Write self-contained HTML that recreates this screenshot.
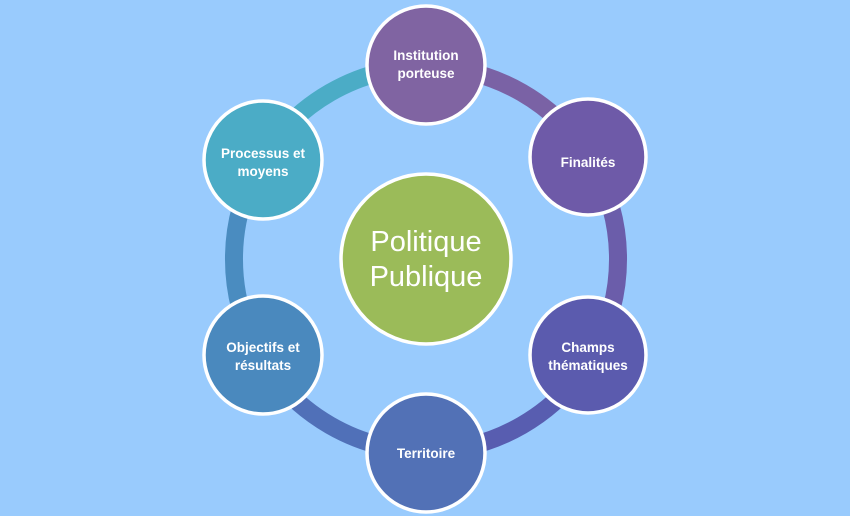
<!DOCTYPE html>
<html><head><meta charset="utf-8"><style>
html,body{margin:0;padding:0;background:#99CBFD;}
svg{display:block}
text{font-family:"Liberation Sans",sans-serif;fill:#fff;text-anchor:middle}
.s{font-size:13.5px;font-weight:bold}
</style></head><body>
<svg width="850" height="516" viewBox="0 0 850 516">
<rect width="850" height="516" fill="#99CBFD"/>
<g fill="none" stroke-width="18">
<path d="M426 67 A192 192 0 0 1 592.3 163" stroke="#7A62A5"/>
<path d="M592.3 163 A192 192 0 0 1 592.3 355" stroke="#6B5DAA"/>
<path d="M592.3 355 A192 192 0 0 1 426 451" stroke="#585DB0"/>
<path d="M426 451 A192 192 0 0 1 259.7 355" stroke="#5070B8"/>
<path d="M259.7 355 A192 192 0 0 1 259.7 163" stroke="#4A8CC0"/>
<path d="M259.7 163 A192 192 0 0 1 426 67" stroke="#4BACC6"/>
</g>
<g stroke="#fff" stroke-width="3.5">
<circle cx="426" cy="259" r="85" fill="#9BBB59"/>
<circle cx="426" cy="65" r="59" fill="#8064A2"/>
<circle cx="588" cy="157" r="58" fill="#6E5AA8"/>
<circle cx="588" cy="355" r="58" fill="#5B5BAE"/>
<circle cx="426" cy="453" r="59" fill="#5271B6"/>
<circle cx="263" cy="355" r="59" fill="#4A89BE"/>
<circle cx="263" cy="160" r="59" fill="#4BACC6"/>
</g>
<text x="426" y="251" font-size="29">Politique</text>
<text x="426" y="286" font-size="29">Publique</text>
<text class="s" x="426" y="60">Institution</text>
<text class="s" x="426" y="78">porteuse</text>
<text class="s" x="588" y="167">Finalités</text>
<text class="s" x="588" y="352">Champs</text>
<text class="s" x="588" y="370">thématiques</text>
<text class="s" x="426" y="458">Territoire</text>
<text class="s" x="263" y="352">Objectifs et</text>
<text class="s" x="263" y="370">résultats</text>
<text class="s" x="263" y="158">Processus et</text>
<text class="s" x="263" y="176">moyens</text>
</svg>
</body></html>
